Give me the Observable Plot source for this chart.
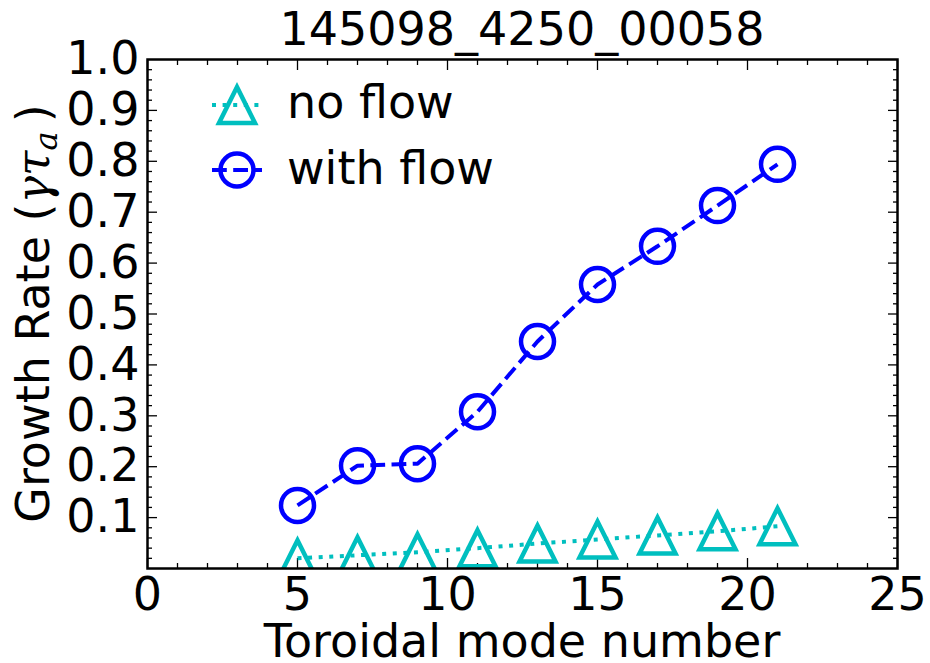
<!DOCTYPE html>
<html>
<head>
<meta charset="utf-8">
<script src="https://cdn.jsdelivr.net/npm/d3@7"></script>
<script src="https://cdn.jsdelivr.net/npm/@observablehq/plot@0.6"></script>
<style>
  body { margin: 0; background: #fff; font-family: "DejaVu Sans", sans-serif; }
  #wrap { position: relative; width: 930px; height: 663px; }
  #title { position: relative; z-index: 2; height: 36px; }
  #title span {
    position: absolute; left: 147px; width: 750px; top: 3px;
    text-align: center; font-size: 46px; line-height: 53px; color: #000; white-space: nowrap;
  }
</style>
</head>
<body>
<div id="wrap">
  <div id="title"><span></span></div>
  <div id="chart"></div>
</div>
<script>
// Growth rate vs toroidal mode number, with and without plasma flow
const titleText = "145098_4250_00058";
const modes = [5, 7, 9, 11, 13, 15, 17, 19, 21];
const noFlow = [0.020, 0.026, 0.032, 0.040, 0.049, 0.057, 0.065, 0.073, 0.083];
const withFlow = [0.124, 0.202, 0.206, 0.308, 0.446, 0.558, 0.633, 0.713, 0.794];
const seriesNames = ["no flow", "with flow"];
const xTicks = [0, 5, 10, 15, 20, 25];
const yTicks = [0.1, 0.2, 0.3, 0.4, 0.5, 0.6, 0.7, 0.8, 0.9, 1.0];
const xLabel = "Toroidal mode number";

const cyan = "#00bfbf";
const blue = "#0000ff";

const toRows = (vals, name) => modes.map((m, i) => ({mode: m, rate: vals[i], series: name}));
const noFlowRows = toRows(noFlow, seriesNames[0]);
const withFlowRows = toRows(withFlow, seriesNames[1]);

// upward triangle with equal width and height, centred on its bounding box
const triangleUp = {
  draw(ctx, size) {
    const r = Math.sqrt(size / Math.PI);
    ctx.moveTo(0, -r);
    ctx.lineTo(r, r);
    ctx.lineTo(-r, r);
    ctx.closePath();
  }
};

const xMinor = d3.range(0, 26, 1).filter(v => v % 5 !== 0);
const yMinor = d3.range(0, 51, 1).filter(v => v % 5 !== 0).map(v => v / 50);
const yMajor = d3.range(1, 10).map(v => v / 10);
const blank = () => "";

const W = 930, H = 627, mTop = 23, mBottom = 95, mLeft = 147, mRight = 33;

const inTicks = (axis, anchor, ticks, size) =>
  axis({anchor, ticks, tickSize: -size, tickFormat: blank, label: null, strokeWidth: 1.3});

const plot = Plot.plot({
  width: W, height: H,
  marginTop: mTop, marginBottom: mBottom, marginLeft: mLeft, marginRight: mRight,
  style: {background: "none", fontFamily: "DejaVu Sans", overflow: "visible", color: "#000"},
  x: {domain: [0, 25]},
  y: {domain: [0, 1]},
  marks: [
    // inward ticks on all four sides
    inTicks(Plot.axisX, "bottom", xMinor, 5),
    inTicks(Plot.axisX, "top", xMinor, 5),
    inTicks(Plot.axisX, "bottom", xTicks, 10),
    inTicks(Plot.axisX, "top", xTicks, 10),
    inTicks(Plot.axisY, "left", yMinor, 5),
    inTicks(Plot.axisY, "right", yMinor, 5),
    inTicks(Plot.axisY, "left", yMajor, 10),
    inTicks(Plot.axisY, "right", yMajor, 10),
    // tick labels
    Plot.axisX({anchor: "bottom", ticks: xTicks, tickSize: 0, tickPadding: 9, fontSize: 46,
                tickFormat: d3.format("d"), label: null}),
    Plot.axisY({anchor: "left", ticks: yTicks, tickSize: 0, tickPadding: 8, fontSize: 46,
                tickFormat: d3.format(".1f"), label: null}),
    // series
    Plot.line(noFlowRows, {x: "mode", y: "rate", stroke: cyan, strokeWidth: 4,
                           strokeDasharray: "4,6.6", strokeLinecap: "butt"}),
    Plot.dot(noFlowRows, {x: "mode", y: "rate", symbol: triangleUp, r: 18, stroke: cyan,
                          strokeWidth: 4.5, fill: "none", clip: true}),
    Plot.line(withFlowRows, {x: "mode", y: "rate", stroke: blue, strokeWidth: 4,
                             strokeDasharray: "14.8,6.4", strokeLinecap: "butt"}),
    Plot.dot(withFlowRows, {x: "mode", y: "rate", symbol: "circle", r: 16.5, stroke: blue,
                            strokeWidth: 4.5, fill: "none", clip: true}),
    Plot.frame({stroke: "#000", strokeWidth: 2.5})
  ]
});

document.querySelector("#title span").textContent = titleText;
document.getElementById("chart").appendChild(plot);

const svg = d3.select(plot);
const frameMidY = mTop + (H - mTop - mBottom) / 2;
const frameMidX = mLeft + (W - mLeft - mRight) / 2;

// x axis title
svg.append("text")
  .attr("x", frameMidX).attr("y", 621)
  .attr("text-anchor", "middle")
  .attr("font-family", "DejaVu Sans").attr("font-size", 46).attr("fill", "#000")
  .text(xLabel);

// y axis title with math symbols
const yl = svg.append("text")
  .attr("transform", `translate(49,${frameMidY}) rotate(-90)`)
  .attr("text-anchor", "middle")
  .attr("font-family", "DejaVu Sans").attr("font-size", 46).attr("fill", "#000");
yl.append("tspan").text("Growth Rate (");
yl.append("tspan").attr("font-family", "DejaVu Serif").attr("font-style", "italic").text("\u03B3\u03C4");
yl.append("tspan").attr("font-family", "DejaVu Serif").attr("font-style", "italic")
  .attr("font-size", 32).attr("dy", 8).text("a");
yl.append("tspan").attr("dy", -8).text("\u2009)");

// legend
const legend = svg.append("g").attr("transform", "translate(0,-36)");
const entries = [
  {name: seriesNames[0], color: cyan, dash: "4,6.6", symbol: triangleUp, r: 18, cy: 105, base: 118},
  {name: seriesNames[1], color: blue, dash: "14.8,6.4", symbol: d3.symbolCircle, r: 16.5, cy: 170, base: 184}
];
for (const e of entries) {
  legend.append("line")
    .attr("x1", 212).attr("x2", 262).attr("y1", e.cy).attr("y2", e.cy)
    .attr("stroke", e.color).attr("stroke-width", 4).attr("stroke-dasharray", e.dash);
  legend.append("path")
    .attr("transform", `translate(237,${e.cy})`)
    .attr("d", d3.symbol(e.symbol, Math.PI * e.r * e.r)())
    .attr("fill", "none").attr("stroke", e.color).attr("stroke-width", 4.5);
  legend.append("text")
    .attr("x", 287).attr("y", e.base)
    .attr("text-anchor", "start")
    .attr("font-family", "DejaVu Sans").attr("font-size", 46).attr("fill", "#000")
    .text(e.name);
}
</script>
</body>
</html>
